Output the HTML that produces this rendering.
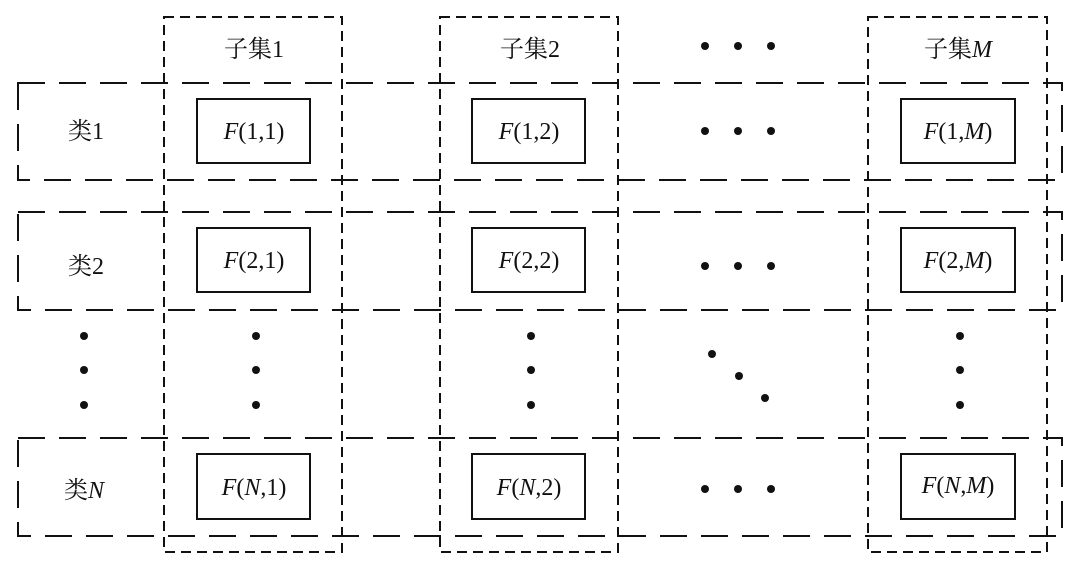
<!DOCTYPE html>
<html><head><meta charset="utf-8"><style>
html,body{margin:0;padding:0;background:#fff;}
svg{display:block}
text{font-family:"Liberation Serif","Noto Serif CJK SC",serif;font-size:24px;fill:#111}
</style></head><body>
<svg width="1080" height="571" viewBox="0 0 1080 571">
<g fill="none" stroke="#111" stroke-width="2">
<g stroke-dasharray="27 14">
<rect x="18" y="83" width="1044" height="97"/>
<rect x="18" y="212" width="1044" height="98"/>
<rect x="18" y="438" width="1044" height="98"/>
</g>
<g stroke-dasharray="10 6">
<rect x="164" y="17" width="178" height="535"/>
<rect x="440" y="17" width="178" height="535"/>
<rect x="868" y="17" width="179" height="535"/>
</g>
<g stroke-width="2">
<rect x="197" y="99" width="113" height="64"/>
<rect x="472" y="99" width="113" height="64"/>
<rect x="901" y="99" width="114" height="64"/>
<rect x="197" y="228" width="113" height="64"/>
<rect x="472" y="228" width="113" height="64"/>
<rect x="901" y="228" width="114" height="64"/>
<rect x="197" y="454" width="113" height="65"/>
<rect x="472" y="454" width="113" height="65"/>
<rect x="901" y="454" width="114" height="65"/>
</g>
</g>
<g fill="#111">
<circle cx="705" cy="46" r="4"/><circle cx="738" cy="46" r="4"/><circle cx="771" cy="46" r="4"/>
<circle cx="705" cy="131" r="4"/><circle cx="738" cy="131" r="4"/><circle cx="771" cy="131" r="4"/>
<circle cx="705" cy="266" r="4"/><circle cx="738" cy="266" r="4"/><circle cx="771" cy="266" r="4"/>
<circle cx="705" cy="489" r="4"/><circle cx="738" cy="489" r="4"/><circle cx="771" cy="489" r="4"/>
<circle cx="84" cy="336" r="4"/><circle cx="84" cy="370" r="4"/><circle cx="84" cy="405" r="4"/>
<circle cx="256" cy="336" r="4"/><circle cx="256" cy="370" r="4"/><circle cx="256" cy="405" r="4"/>
<circle cx="531" cy="336" r="4"/><circle cx="531" cy="370" r="4"/><circle cx="531" cy="405" r="4"/>
<circle cx="960" cy="336" r="4"/><circle cx="960" cy="370" r="4"/><circle cx="960" cy="405" r="4"/>
<circle cx="712" cy="354" r="4"/><circle cx="739" cy="376" r="4"/><circle cx="765" cy="398" r="4"/>
</g>
<g text-anchor="middle">
<text x="254" y="57">子集1</text>
<text x="530" y="57">子集2</text>
<text x="958" y="57">子集<tspan font-style="italic">M</tspan></text>
<text x="86" y="139">类1</text>
<text x="86" y="274">类2</text>
<text x="84" y="498">类<tspan font-style="italic">N</tspan></text>
<text x="254" y="139"><tspan font-style="italic">F</tspan>(1,1)</text>
<text x="529" y="139"><tspan font-style="italic">F</tspan>(1,2)</text>
<text x="958" y="139"><tspan font-style="italic">F</tspan>(1,<tspan font-style="italic">M</tspan>)</text>
<text x="254" y="268"><tspan font-style="italic">F</tspan>(2,1)</text>
<text x="529" y="268"><tspan font-style="italic">F</tspan>(2,2)</text>
<text x="958" y="268"><tspan font-style="italic">F</tspan>(2,<tspan font-style="italic">M</tspan>)</text>
<text x="254" y="495"><tspan font-style="italic">F</tspan>(<tspan font-style="italic">N</tspan>,1)</text>
<text x="529" y="495"><tspan font-style="italic">F</tspan>(<tspan font-style="italic">N</tspan>,2)</text>
<text x="958" y="493"><tspan font-style="italic">F</tspan>(<tspan font-style="italic">N</tspan>,<tspan font-style="italic">M</tspan>)</text>
</g>
</svg>
</body></html>
